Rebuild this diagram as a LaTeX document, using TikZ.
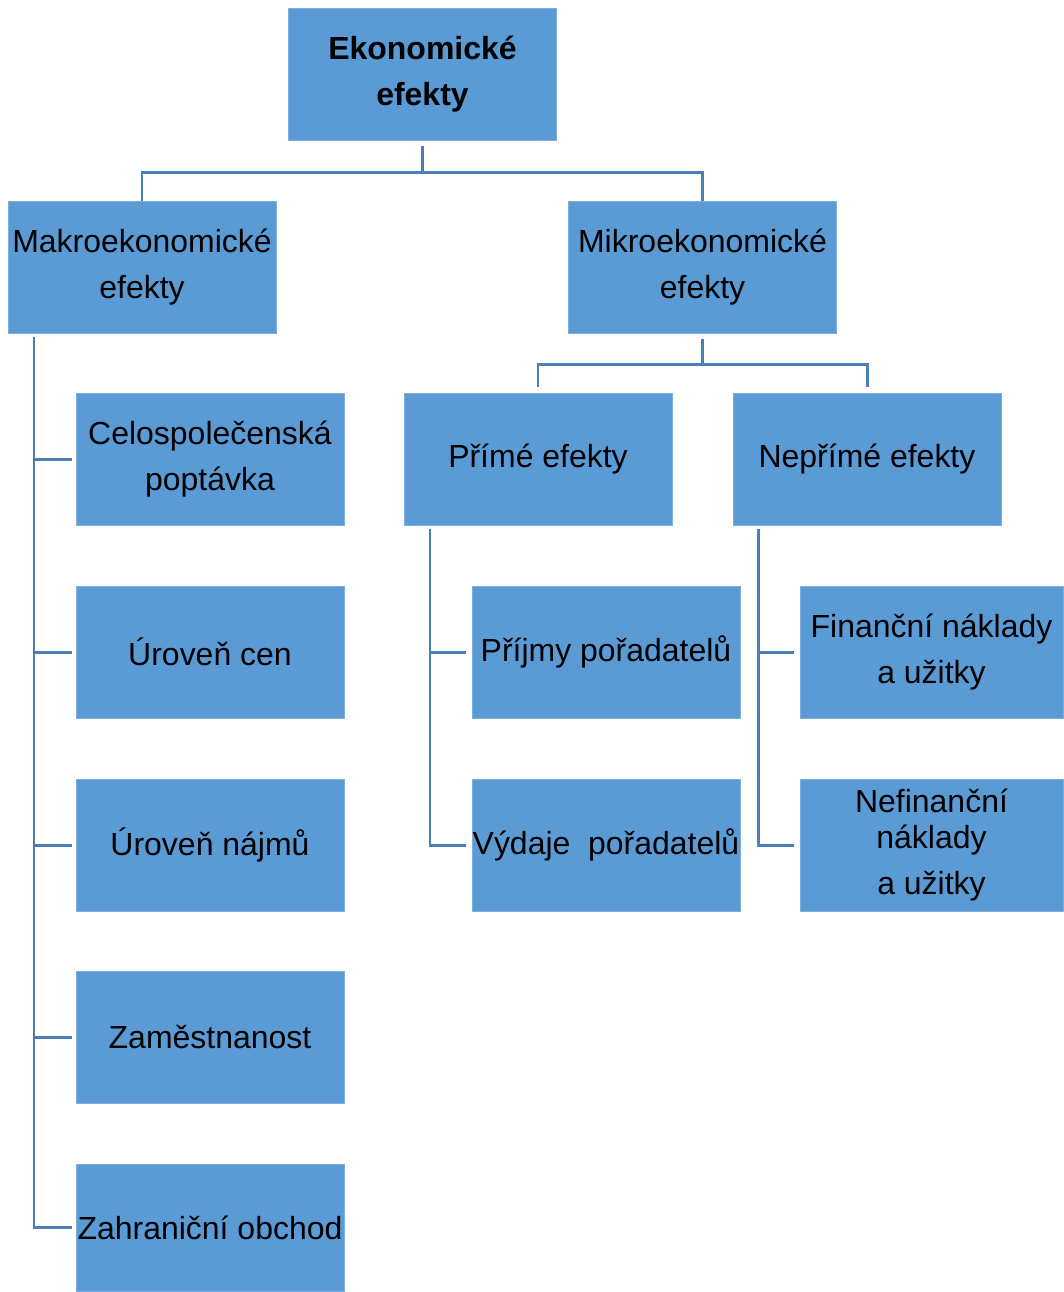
\documentclass[tikz,border=0pt]{standalone}
\usepackage{fontspec}
\setmainfont{Liberation Sans}
\usepackage{tikz}

\definecolor{boxblue}{HTML}{5B9BD5}
\definecolor{lineblue}{HTML}{4A7EBB}

\tikzset{
  effbox/.style={fill=boxblue, draw=boxblue!80!white, line width=0.5pt,
    minimum width=5.36cm, minimum height=2.64cm, inner sep=0pt,
    align=center, text=black, font=\fontsize{18.2}{26.5}\selectfont},
  conn/.style={draw=lineblue, line width=1.7pt}
}

\begin{document}
\begin{tikzpicture}[x=0.02cm,y=-0.02cm] %1 unit = 1 px of the layout
\useasboundingbox (0,0) rectangle (1063,1292);

% top level
\node[effbox, font=\fontsize{18.2}{26.5}\selectfont\bfseries] (ekon) at (422.5,74) {Ekonomické\\efekty};
\node[effbox] (makro) at (142,267) {Makroekonomické\\efekty};
\node[effbox] (mikro) at (702.5,267) {Mikroekonomické\\efekty};

% macro branch
\node[effbox] (celo) at (210,459) {Celospolečenská\\poptávka};
\node[effbox] (ceny) at (210,652) {Úroveň cen};
\node[effbox] (najmy) at (210,845) {Úroveň nájmů};
\node[effbox] (zames) at (210,1037) {Zaměstnanost};
\node[effbox, minimum height=2.54cm] (obchod) at (210,1227.5) {Zahraniční obchod};

% micro branch
\node[effbox] (prime) at (538,459) {Přímé efekty};
\node[effbox] (neprime) at (867,459) {Nepřímé efekty};
\node[effbox] (prijmy) at (606,652) {Příjmy pořadatelů};
\node[effbox] (vydaje) at (606,845) {Výdaje~ pořadatelů};
\node[effbox, minimum width=5.26cm] (finan) at (931.5,652) {Finanční náklady\\a užitky};
\node[effbox, minimum width=5.26cm] (nefinan) at (931.5,845) {Nefinanční\\[-6pt]náklady\\a užitky};

% connectors
\draw[conn] ([yshift=-3]ekon.south) -- ++(0,27) coordinate (tbar) -| (makro.north);
\draw[conn] (tbar) -| (mikro.north);
\draw[conn] ([yshift=-3]mikro.south) -- ++(0,26) coordinate (mbar) -| ([yshift=3]prime.north);
\draw[conn] (mbar) -| ([yshift=3]neprime.north);

\coordinate (lspine) at (34,337);
\draw[conn] (lspine) |- ([xshift=-2]obchod.west);
\foreach \n in {celo,ceny,najmy,zames} {
\draw[conn] (lspine |- \n.west) -- ([xshift=-2]\n.west);
}

\coordinate (pspine) at (430,529);
\draw[conn] (pspine) |- ([xshift=-3]vydaje.west);
\draw[conn] (pspine |- prijmy.west) -- ([xshift=-3]prijmy.west);

\coordinate (nspine) at (758,529);
\draw[conn] (nspine) |- ([xshift=-3]nefinan.west);
\draw[conn] (nspine |- finan.west) -- ([xshift=-3]finan.west);
\end{tikzpicture}
\end{document}
